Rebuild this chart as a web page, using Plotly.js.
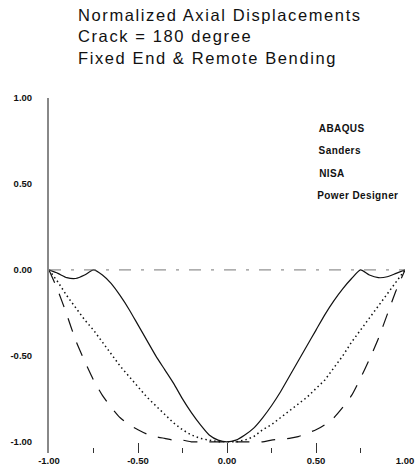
<!DOCTYPE html>
<html>
<head>
<meta charset="utf-8">
<script src="https://cdn.plot.ly/plotly-3.0.1.min.js"></script>
<style>
html,body{margin:0;padding:0;background:#fff;}
#chart{width:417px;height:474px;}
#chart .gtitle{letter-spacing:1.6px;}
#chart .annotation-text{letter-spacing:0.4px;}
</style>
</head>
<body>
<div id="chart"></div>
<script>
const titleLines = ["Normalized Axial Displacements", "Crack = 180 degree", "Fixed End & Remote Bending"];
const seriesNames = ["ABAQUS", "Sanders", "NISA", "Power Designer"];

const xVals = [-1.00,-0.95,-0.90,-0.85,-0.80,-0.75,-0.70,-0.65,-0.60,-0.55,-0.50,-0.45,-0.40,-0.35,-0.30,-0.25,-0.20,-0.15,-0.10,-0.05,0.00,
               0.05,0.10,0.15,0.20,0.25,0.30,0.35,0.40,0.45,0.50,0.55,0.60,0.65,0.70,0.75,0.80,0.85,0.90,0.95,1.00];

const abaqus = [0,-0.02,-0.045,-0.05,-0.03,0,-0.03,-0.08,-0.15,-0.23,-0.32,-0.41,-0.50,-0.58,-0.66,-0.75,-0.83,-0.90,-0.96,-0.99,-1.00,
                -0.99,-0.96,-0.92,-0.86,-0.79,-0.71,-0.62,-0.53,-0.44,-0.35,-0.26,-0.18,-0.11,-0.05,0,-0.03,-0.045,-0.04,-0.02,0];

const sanders = [0,-0.07,-0.15,-0.22,-0.29,-0.35,-0.42,-0.49,-0.56,-0.62,-0.68,-0.74,-0.79,-0.84,-0.89,-0.93,-0.96,-0.98,-0.99,-1.00,-1.00,
                 -1.00,-0.99,-0.97,-0.93,-0.90,-0.86,-0.82,-0.78,-0.74,-0.69,-0.64,-0.57,-0.50,-0.42,-0.35,-0.28,-0.21,-0.14,-0.07,0];

const nisa = [0,-0.12,-0.26,-0.41,-0.53,-0.64,-0.73,-0.80,-0.86,-0.90,-0.93,-0.955,-0.97,-0.98,-0.99,-0.99,-1.00,-1.00,-1.00,-1.00,-1.00,
              -1.00,-1.00,-1.00,-1.00,-0.99,-0.985,-0.98,-0.97,-0.95,-0.93,-0.90,-0.86,-0.80,-0.73,-0.63,-0.52,-0.40,-0.26,-0.12,0];

const powerX = [-1.00, 1.00];
const powerY = [0, 0];

const tickVals = [-1, -0.5, 0, 0.5, 1];
const tickText = ["-1.00", "-0.50", "0.00", "0.50", "1.00"];
const minorTickVals = [-0.75, -0.25, 0.25, 0.75];

const traces = [
  {x: xVals, y: abaqus, name: seriesNames[0], mode: 'lines', line: {color: '#111', width: 1.2, shape: 'spline', smoothing: 0.6}},
  {x: xVals, y: sanders, name: seriesNames[1], mode: 'lines', line: {color: '#111', width: 1.5, dash: '1.5px,3px'}},
  {x: xVals, y: nisa, name: seriesNames[2], mode: 'lines', line: {color: '#111', width: 1.2, dash: '14px,12px', shape: 'spline', smoothing: 0.6}},
  {x: powerX, y: powerY, name: seriesNames[3], mode: 'lines', line: {color: '#777', width: 1, dash: '12px,10px,3px,10px'}}
];
traces.forEach(t => { t.cliponaxis = false; t.hoverinfo = 'skip'; });

const legendTop = 0.915, legendStep = 0.0634;
const annotations = seriesNames.map((n, i) => ({
  text: n, xref: 'paper', yref: 'paper', x: 0.757, y: legendTop - i * legendStep,
  xanchor: 'left', yanchor: 'middle', showarrow: false,
  font: {family: 'Arial, Liberation Sans, sans-serif', size: 10, color: '#111', weight: 'bold'}
}));

const tickFont = {family: 'Arial, Liberation Sans, sans-serif', size: 9.5, color: '#111', weight: 'bold'};

const layout = {
  width: 417, height: 474,
  margin: {l: 49, r: 12, t: 98, b: 21},
  paper_bgcolor: '#fff', plot_bgcolor: '#fff',
  showlegend: false,
  title: {
    text: titleLines.join('<br>'),
    xref: 'container', yref: 'container', x: 78/417, xanchor: 'left', y: 1 - 21/474, yanchor: 'top',
    font: {family: 'Arial, Liberation Sans, sans-serif', size: 16.5, color: '#111'}
  },
  xaxis: {
    range: [-1, 1], showgrid: false, zeroline: false, showline: false,
    tickmode: 'array', tickvals: tickVals, ticktext: tickText,
    ticks: 'inside', ticklen: 10, tickwidth: 1, tickcolor: '#333',
    minor: {tickvals: minorTickVals, ticks: 'inside', ticklen: 5, tickwidth: 1, tickcolor: '#333'},
    tickfont: tickFont
  },
  yaxis: {
    range: [-1.065, 1], showgrid: false, zeroline: false,
    showline: true, linecolor: '#888', linewidth: 2,
    tickmode: 'array', tickvals: tickVals, ticktext: tickText,
    ticks: 'outside', ticklen: 13, tickcolor: 'rgba(0,0,0,0)',
    tickfont: tickFont
  },
  annotations: annotations
};

Plotly.newPlot('chart', traces, layout, {staticPlot: true, displayModeBar: false});
</script>
</body>
</html>
